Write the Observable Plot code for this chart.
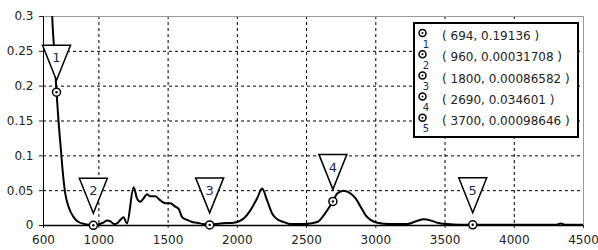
<!DOCTYPE html>
<html>
<head>
<meta charset="utf-8">
<script src="https://cdn.jsdelivr.net/npm/d3@7"></script>
<script src="https://cdn.jsdelivr.net/npm/@observablehq/plot@0.6"></script>
<style>
  html, body { margin: 0; padding: 0; background: white; }
  #chart { width: 598px; height: 250px; }
</style>
</head>
<body>
<div id="chart"></div>
<script>
// Curve samples (x, y)
const curveX = [640, 655, 663, 674, 694, 708, 726, 740, 757, 781, 817, 853, 900, 930, 960,
  1000, 1030, 1060, 1083, 1110, 1130, 1155, 1178, 1203, 1251, 1275, 1299, 1323, 1347, 1371,
  1408, 1444, 1480, 1516, 1552, 1576, 1601, 1637, 1673, 1709, 1750, 1800, 1878, 1974, 2046,
  2095, 2143, 2179, 2215, 2252, 2288, 2335, 2384, 2480, 2577, 2625, 2673, 2690, 2721, 2769,
  2818, 2854, 2890, 2926, 2962, 3011, 3100, 3228, 3290, 3348, 3400, 3445, 3517, 3600, 3700,
  3800, 4000, 4200, 4300, 4336, 4370, 4500];
const curveY = [0.45, 0.36, 0.30, 0.261, 0.19136, 0.151, 0.108, 0.075, 0.046, 0.027, 0.012, 0.005, 0.002, 0.001, 0.00032,
  0.002, 0.004, 0.007, 0.006, 0.002, 0.003, 0.008, 0.012, 0.003, 0.055, 0.039, 0.034, 0.039, 0.045, 0.042,
  0.042, 0.036, 0.032, 0.032, 0.027, 0.024, 0.012, 0.008, 0.005, 0.004, 0.002, 0.00087, 0.003, 0.004, 0.010,
  0.022, 0.039, 0.053, 0.036, 0.017, 0.009, 0.005, 0.002, 0.002, 0.005, 0.015, 0.029, 0.0346, 0.046, 0.050,
  0.046, 0.039, 0.027, 0.015, 0.008, 0.004, 0.002, 0.002, 0.006, 0.009, 0.007, 0.004, 0.002, 0.001, 0.00099,
  0.001, 0.001, 0.001, 0.001, 0.003, 0.001, 0.001];

// Data tips
const markX = [694, 960, 1800, 2690, 3700];
const markY = [0.19136, 0.00031708, 0.00086582, 0.034601, 0.00098646];
const markLabel = ["1", "2", "3", "4", "5"];

// Ticks
const xTicks = [600, 1000, 1500, 2000, 2500, 3000, 3500, 4000, 4500];
const yTicks = [0, 0.05, 0.1, 0.15, 0.2, 0.25, 0.3];

const curve = curveX.map((x, i) => ({x, y: curveY[i]}));
const marks = markX.map((x, i) => ({x, y: markY[i], label: markLabel[i]}));

const tri = {
  draw(ctx) {
    ctx.moveTo(-14, -35);
    ctx.lineTo(14, -35);
    ctx.lineTo(0, 0);
    ctx.closePath();
  }
};

const chart = Plot.plot({
  width: 598,
  height: 250,
  marginLeft: 43,
  marginRight: 15,
  marginTop: 16,
  marginBottom: 25,
  style: {fontFamily: "DejaVu Sans", fontSize: "12px", color: "#222", background: "white"},
  x: {domain: [600, 4500]},
  y: {domain: [0, 0.3]},
  marks: [
    Plot.gridX(xTicks.slice(1, -1), {stroke: "black", strokeOpacity: 1, strokeDasharray: "3,3"}),
    Plot.gridY(yTicks.slice(1, -1), {stroke: "black", strokeOpacity: 1, strokeDasharray: "3,3"}),
    Plot.frame({stroke: "#999"}),
    Plot.axisX({ticks: xTicks, tickSize: 3, tickPadding: 7, tickFormat: d => String(d), label: null}),
    Plot.axisY({ticks: yTicks, tickSize: 4, tickPadding: 6, tickFormat: d => String(d), label: null}),
    Plot.ruleX([600], {stroke: "black"}),
    Plot.ruleY([0], {stroke: "black", strokeWidth: 1.5}),
    Plot.line(curve, {x: "x", y: "y", stroke: "black", strokeWidth: 2, curve: "monotone-x", clip: true}),
    Plot.dot(marks, {x: "x", y: "y", symbol: tri, r: 5, fill: "white", stroke: "black", strokeWidth: 1.5, dy: -12}),
    Plot.text(marks, {x: "x", y: "y", text: "label", dy: -34, fontSize: 13, fill: "#1c2a55"}),
    Plot.dot(marks, {x: "x", y: "y", r: 4, fill: "white", stroke: "black", strokeWidth: 1.5}),
    Plot.dot(marks, {x: "x", y: "y", r: 1.2, fill: "black", stroke: "none"})
  ]
});

// Legend box drawn inside the SVG
const svg = d3.select(chart);
const lg = svg.append("g").attr("font-family", "DejaVu Sans").attr("text-anchor", "start");
lg.append("rect").attr("x", 414).attr("y", 23).attr("width", 164).attr("height", 114)
  .attr("fill", "white").attr("stroke", "black").attr("stroke-width", 2);
marks.forEach((d, i) => {
  const cy = 36 + i * 21.2;
  lg.append("circle").attr("cx", 422.5).attr("cy", cy - 3).attr("r", 3.5)
    .attr("fill", "white").attr("stroke", "black").attr("stroke-width", 1.5);
  lg.append("circle").attr("cx", 422.5).attr("cy", cy - 3).attr("r", 1)
    .attr("fill", "black");
  lg.append("text").attr("x", 426).attr("y", cy + 8).attr("font-size", 10)
    .attr("text-anchor", "middle").attr("dy", "0.35em").attr("fill", "#1c2a55").text(d.label);
  lg.append("text").attr("x", 442).attr("y", cy).attr("dy", "0.35em").attr("text-anchor", "start")
    .attr("font-size", 12).attr("fill", "#222").text(`( ${d.x}, ${d.y} )`);
});

document.getElementById("chart").appendChild(chart);
</script>
</body>
</html>
